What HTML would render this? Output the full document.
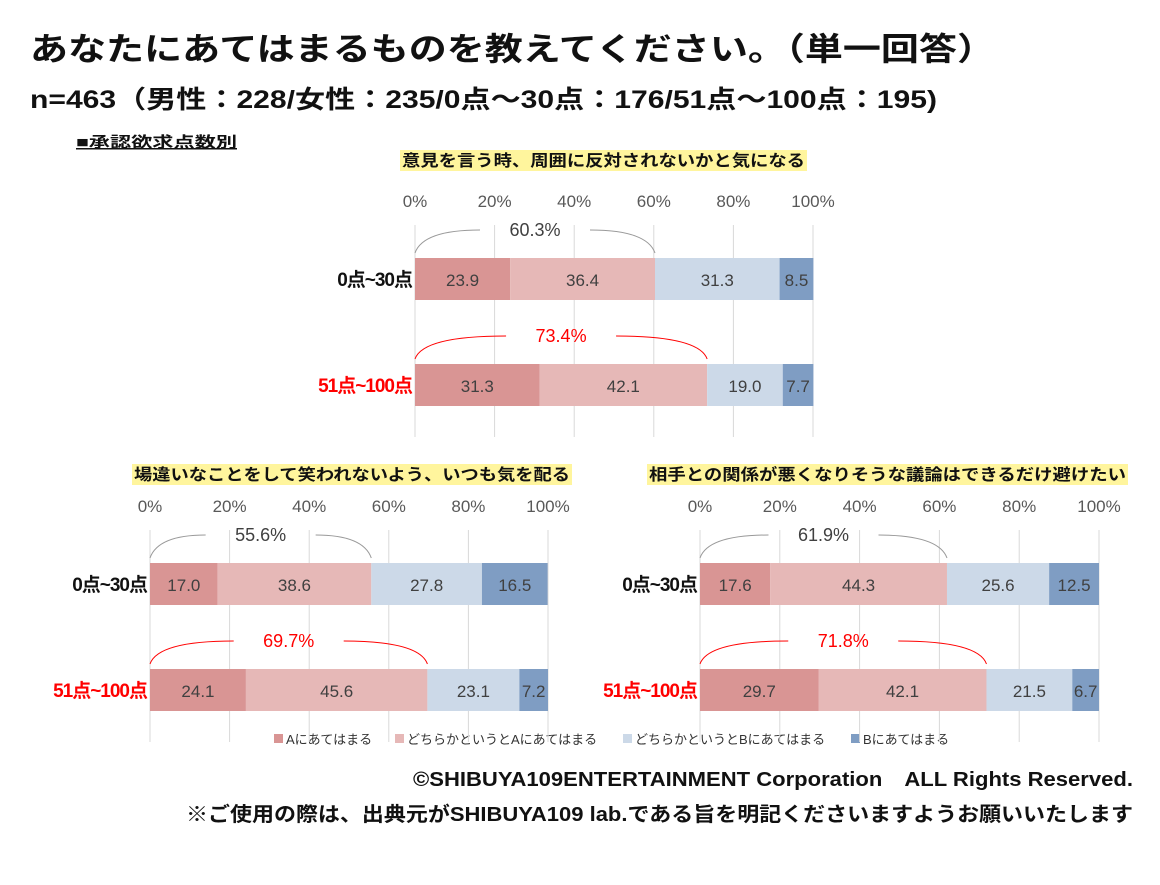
<!DOCTYPE html><html><head><meta charset="utf-8"><style>
body{margin:0;background:#fff;width:1160px;height:880px;overflow:hidden;font-family:"Liberation Sans","Noto Sans CJK JP",sans-serif}
svg text{font-family:"Liberation Sans","Noto Sans CJK JP",sans-serif}
</style></head><body>
<svg id="s" width="1160" height="880" xmlns="http://www.w3.org/2000/svg">
<text x="30" y="60" font-size="32" font-weight="bold" fill="#111" textLength="965" lengthAdjust="spacingAndGlyphs">あなたにあてはまるものを教えてください。（単一回答）</text>
<text x="30" y="108" font-size="25" font-weight="bold" fill="#111" textLength="907" lengthAdjust="spacingAndGlyphs">n=463（男性：228/女性：235/0点〜30点：176/51点〜100点：195)</text>
<text x="76" y="147" font-size="15" font-weight="bold" fill="#111" text-decoration="underline" textLength="161" lengthAdjust="spacingAndGlyphs">■承認欲求点数別</text>
<text x="413" y="786" font-size="20" font-weight="bold" fill="#111" textLength="720" lengthAdjust="spacingAndGlyphs">©SHIBUYA109ENTERTAINMENT Corporation　ALL Rights Reserved.</text>
<text x="186" y="821" font-size="20" font-weight="bold" fill="#111" textLength="947" lengthAdjust="spacingAndGlyphs">※ご使用の際は、出典元がSHIBUYA109 lab.である旨を明記くださいますようお願いいたします</text>
<g font-size="13" fill="#333">
<rect x="274" y="734" width="9" height="9" fill="#d99594"/><text x="286" y="744">Aにあてはまる</text>
<rect x="395" y="734" width="9" height="9" fill="#e6b8b7"/><text x="407" y="744">どちらかというとAにあてはまる</text>
<rect x="623" y="734" width="9" height="9" fill="#ccd9e8"/><text x="635" y="744">どちらかというとBにあてはまる</text>
<rect x="851" y="734" width="9" height="9" fill="#7f9dc3"/><text x="863" y="744">Bにあてはまる</text>
</g>
</svg>
<script>
const s=document.getElementById('s');let h='';
const C=['#d99594','#e6b8b7','#ccd9e8','#7f9dc3'];
function chart(x0,x1,ty,title,tx,tw,by,gy0,gy1,rows){
 const w=(x1-x0)/100;
 h+=`<text x="${tx}" y="${ty}" font-size="16" font-weight="bold" fill="#111" id="t${x0}" textLength="${tw}" lengthAdjust="spacingAndGlyphs">${title}</text>`;
 for(let i=0;i<=5;i++){const x=x0+i*20*w;
  h+=`<line x1="${x}" y1="${gy0}" x2="${x}" y2="${gy1}" stroke="#d9d9d9"/>`;
  h+=`<text x="${x}" y="${by-51}" font-size="17" fill="#595959" text-anchor="middle">${i*20}%</text>`;}
 rows.forEach((r,k)=>{const y=by+k*106;let x=x0;
  h+=`<text x="${x0-3}" y="${y+28}" font-size="19" font-weight="bold" text-anchor="end" fill="${k?'#ff0000':'#111'}" letter-spacing="-1">${k?'51点~100点':'0点~30点'}</text>`;
  r.forEach((v,j)=>{const ww=v*w;h+=`<rect x="${x}" y="${y}" width="${ww}" height="42" fill="${C[j]}"/>`;
   h+=`<text x="${x+ww/2}" y="${y+28}" font-size="17" fill="#404040" text-anchor="middle">${v.toFixed(1)}</text>`;x+=ww;});
  const sum=r[0]+r[1],xe=x0+sum*w,xm=(x0+xe)/2,col=k?'#ff0000':'#999',yc=y-28;
  h+=`<path d="M${x0} ${y-5} Q${x0+8} ${yc} ${xm-55} ${yc} M${xm+55} ${yc} Q${xe-8} ${yc} ${xe} ${y-5}" fill="none" stroke="${col}"/>`;
  h+=`<text x="${xm}" y="${yc+6}" font-size="18" fill="${k?'#ff0000':'#404040'}" text-anchor="middle">${(sum).toFixed(1)}%</text>`;
 });
}
chart(415,813,166,'意見を言う時、周囲に反対されないかと気になる',402,403,258,225,437,[[23.9,36.4,31.3,8.5],[31.3,42.1,19.0,7.7]]);
chart(150,548,480,'場違いなことをして笑われないよう、いつも気を配る',134,436,563,530,742,[[17.0,38.6,27.8,16.5],[24.1,45.6,23.1,7.2]]);
chart(700,1099,480,'相手との関係が悪くなりそうな議論はできるだけ避けたい',649,477,563,530,742,[[17.6,44.3,25.6,12.5],[29.7,42.1,21.5,6.7]]);
s.insertAdjacentHTML('beforeend',h);
[415,150,700].forEach(k=>{const t=document.getElementById('t'+k);const b=t.getBBox();
 const r=document.createElementNS('http://www.w3.org/2000/svg','rect');
 r.setAttribute('x',b.x-2);r.setAttribute('y',b.y-1);r.setAttribute('width',b.width+4);r.setAttribute('height',b.height+2);r.setAttribute('fill','#fff59d');
 s.insertBefore(r,t);});
</script>
</body></html>
